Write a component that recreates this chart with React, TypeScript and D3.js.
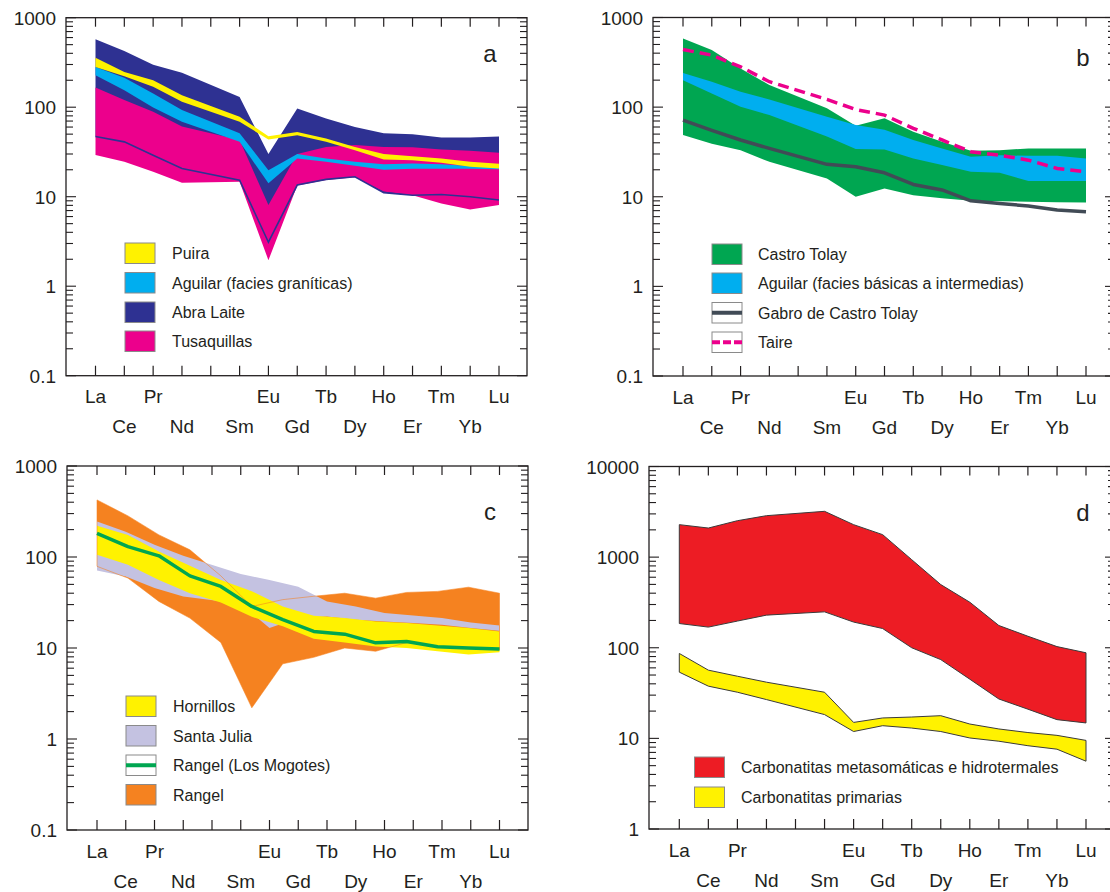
import React from 'react';
import * as d3 from 'd3';

// ---------- categories & tick labels ----------
const ELEMENTS = ['La', 'Ce', 'Pr', 'Nd', 'Pm', 'Sm', 'Eu', 'Gd', 'Tb', 'Dy', 'Ho', 'Er', 'Tm', 'Yb', 'Lu'];
const ROW1_LABELS = ['La', 'Pr', 'Eu', 'Tb', 'Ho', 'Tm', 'Lu'];
const ROW2_LABELS = ['Ce', 'Nd', 'Sm', 'Gd', 'Dy', 'Er', 'Yb'];
const REE = ELEMENTS.filter((e) => e !== 'Pm'); // 14 analysed elements
const Y_TICKS_ABC = [0.1, 1, 10, 100, 1000];
const Y_TICKS_D = [1, 10, 100, 1000, 10000];

// ---------- panel a (values for La..Lu without Pm) ----------
const abraLaiteTop = [573, 425, 299, 242, 130, 30, 97, 75, 60, 51, 50, 46, 46, 47];
const abraLaiteLow = [47, 41, 29, 20.7, 15.3, 3.1, 13.5, 15.6, 16.7, 11.1, 10.4, 10.6, 10, 9.2];
const tusaquillasTop = [166, 120, 89, 61, 43, 8.1, 30, 36, 37.7, 36, 35.6, 33.7, 32.6, 31];
const tusaquillasLow = [29.2, 24.5, 19, 14.3, 14.7, 1.95, 13.3, 15.4, 16.5, 11.4, 10.4, 8.4, 7.2, 8.1];
const aguilarGranTop = [282, 214, 142, 93, 51, 19.8, 30, 26.8, 24.6, 23, 23.5, 23, 22, 21.5];
const aguilarGranLow = [228, 155, 99, 68.6, 41, 14.1, 26.8, 24.5, 22.2, 20, 20.5, 20.5, 20.5, 20.3];
const puiraTop = [358, 248, 200, 136, 78, 47.5, 53, 44.7, 36, 30, 28.4, 26.8, 24.5, 23.4];
const puiraLow = [282, 222, 169, 115, 68.6, 43.6, 48.7, 41, 33, 26, 25.6, 24, 21.6, 20.7];
const LEGEND_A = ['Puira', 'Aguilar (facies graníticas)', 'Abra Laite', 'Tusaquillas'];

// ---------- panel b ----------
const castroTolayTop = [583, 433, 270, 176, 97, 62, 75, 53, 41, 32.6, 33, 34.6, 34.6, 34.6];
const castroTolayLow = [48.8, 39, 33, 24.5, 16, 10, 12.4, 10.4, 9.6, 9, 8.9, 8.8, 8.7, 8.6];
const aguilarBasTop = [241, 192, 148, 122, 78, 63, 56, 43, 34.6, 28, 29, 28.6, 28.6, 26.8];
const aguilarBasLow = [200, 142, 101, 81.5, 47, 34, 33.7, 26.8, 22.6, 19, 18.5, 15, 15, 15];
const gabroCastroTolay = [71.6, 55, 43, 34.6, 23, 21.6, 18.5, 13.7, 11.9, 9, 8.4, 7.9, 7.1, 6.8];
const taire = [440, 380, 282, 192, 122, 94, 81.5, 58, 43, 31.8, 29, 25.6, 20.7, 19];
const LEGEND_B = ['Castro Tolay', 'Aguilar (facies básicas a intermedias)', 'Gabro de Castro Tolay', 'Taire'];

// ---------- panel c ----------
const rangelTop = [424, 283, 175, 120, 62, 28.6, 34, 37, 40, 35.3, 40.8, 41.9, 46.6, 40];
const rangelLow = [79, 58.6, 32.5, 21.3, 11.5, 2.2, 6.7, 7.9, 10, 9.2, 11.5, 10.5, 10, 9.5];
const santaJuliaTop = [245, 190, 136, 103, 65, 56, 47, 32.5, 28.6, 24.2, 22.8, 21.3, 19.1, 17.7];
const santaJuliaLow = [71, 61, 45.5, 36.9, 30.6, 16.6, 21.3, 22.2, 20.4, 19.6, 18.8, 18, 16.6, 15.5];
const hornillosTop = [220, 175, 115, 80, 56, 42, 28.6, 22.6, 21.3, 19.6, 18.8, 17.7, 16.6, 15.2];
const hornillosLow = [106, 82, 56, 40, 31.7, 22, 17.3, 12.6, 11.5, 10.4, 10, 9.2, 8.5, 9];
const rangelMogotes = [182, 130, 103, 62, 47.5, 28.6, 20.5, 15.2, 14.2, 11.4, 11.8, 10.3, 10, 9.75];
const LEGEND_C = ['Hornillos', 'Santa Julia', 'Rangel (Los Mogotes)', 'Rangel'];

// ---------- panel d ----------
const carbMetTop = [2282, 2094, 2523, 2866, 3202, 2282, 1770, 938, 498, 318, 176, 134, 103, 88];
const carbMetLow = [185, 169, 197, 229, 249, 192, 163, 100, 74, 45, 27.2, 21, 16.1, 14.8];
const carbPrimTop = [86.5, 56.6, 48.5, 41.7, 32.3, 15, 16.8, 17.2, 17.8, 14.4, 12.7, 11.6, 10.8, 9.5];
const carbPrimLow = [53.8, 37.7, 32.3, 26.8, 18.3, 11.9, 13.8, 13, 11.9, 10.1, 9.3, 8.3, 7.6, 5.6];
const LEGEND_D = ['Carbonatitas metasomáticas e hidrotermales', 'Carbonatitas primarias'];

// ---------- layout ----------
type Frame = { x0: number; x1: number; y0: number; y1: number; la: number; lu: number; dom: [number, number] };
const FA: Frame = { x0: 66, x1: 527, y0: 17.7, y1: 375.7, la: 95.5, lu: 499, dom: [0.1, 1000] };
const FB: Frame = { x0: 653, x1: 1115, y0: 17.5, y1: 376, la: 683, lu: 1086, dom: [0.1, 1000] };
const FC: Frame = { x0: 67, x1: 528, y0: 466, y1: 830, la: 97, lu: 499.5, dom: [0.1, 1000] };
const FD: Frame = { x0: 649, x1: 1115, y0: 466.5, y1: 829, la: 679.3, lu: 1086, dom: [1, 10000] };

const INK = '#231f20';
const FONT = "'Liberation Sans', Arial, Helvetica, sans-serif";

function scales(f: Frame) {
  const x = d3.scalePoint<string>().domain(ELEMENTS).range([f.la, f.lu]);
  const xe = d3.scalePoint<string>().domain(REE).range([f.la, f.lu]);
  const y = d3.scaleLog().domain(f.dom).range([f.y1, f.y0]);
  const xt = REE.map((e) => x(e) as number); // positions on element ticks
  const xv = REE.map((e) => xe(e) as number); // evenly spaced positions
  return { x, y, xt, xv };
}

function band(xs: number[], top: number[], low: number[], y: d3.ScaleLogarithmic<number, number>) {
  return (
    d3
      .area<number>()
      .x((_, i) => xs[i])
      .y0((_, i) => y(low[i]))
      .y1((d) => y(d))(top) || ''
  );
}
function polyline(xs: number[], vals: number[], y: d3.ScaleLogarithmic<number, number>) {
  return (
    d3
      .line<number>()
      .x((_, i) => xs[i])
      .y((d) => y(d))(vals) || ''
  );
}

function Axes({ f, ticks, letter, letterX, letterY }: { f: Frame; ticks: number[]; letter: string; letterX: number; letterY: number }) {
  const { x, y } = scales(f);
  const all = y.ticks();
  const isMajor = (v: number) => Math.abs(Math.log10(v) - Math.round(Math.log10(v))) < 1e-6;
  const fmt = d3.format('~g');
  return (
    <g>
      <rect x={f.x0} y={f.y0} width={f.x1 - f.x0} height={f.y1 - f.y0} fill="none" stroke={INK} strokeWidth={1.3} />
      {ELEMENTS.map((e) => (
        <g key={e}>
          <line x1={x(e)} x2={x(e)} y1={f.y0} y2={f.y0 + 9} stroke={INK} strokeWidth={1.2} />
          <line x1={x(e)} x2={x(e)} y1={f.y1} y2={f.y1 - 10} stroke={INK} strokeWidth={1.2} />
        </g>
      ))}
      {all.map((v, i) => {
        const len = isMajor(v) ? 10 : 7;
        const yy = y(v);
        return (
          <g key={i}>
            <line x1={f.x0} x2={f.x0 + len} y1={yy} y2={yy} stroke={INK} strokeWidth={1.1} />
            <line x1={f.x1} x2={f.x1 - len} y1={yy} y2={yy} stroke={INK} strokeWidth={1.1} />
          </g>
        );
      })}
      {ticks.map((v) => (
        <text key={v} x={f.x0 - 10} y={y(v) + 7} textAnchor="end" fontSize={19} fill={INK}>
          {fmt(v)}
        </text>
      ))}
      {ROW1_LABELS.map((e) => (
        <text key={e} x={x(e)} y={f.y1 + 27.5} textAnchor="middle" fontSize={19} fill={INK}>
          {e}
        </text>
      ))}
      {ROW2_LABELS.map((e) => (
        <text key={e} x={x(e)} y={f.y1 + 57.5} textAnchor="middle" fontSize={19} fill={INK}>
          {e}
        </text>
      ))}
      <text x={letterX} y={letterY} textAnchor="middle" fontSize={24} fill={INK}>
        {letter}
      </text>
    </g>
  );
}

type Swatch = { kind: 'fill'; color: string } | { kind: 'line'; color: string; dash?: string };
function Legend({ x, ys, tx, labels, swatches }: { x: number; ys: number[]; tx: number; labels: string[]; swatches: Swatch[] }) {
  return (
    <g>
      {labels.map((l, i) => {
        const s = swatches[i];
        const y0 = ys[i];
        return (
          <g key={l}>
            <rect x={x} y={y0} width={30} height={20.5} fill={s.kind === 'fill' ? s.color : '#fff'} stroke="#8a8a8a" strokeWidth={1} />
            {s.kind === 'line' && (
              <line x1={x} x2={x + 30} y1={y0 + 10.25} y2={y0 + 10.25} stroke={s.color} strokeWidth={4} strokeDasharray={s.dash} />
            )}
            <text x={tx} y={y0 + 16} fontSize={16} fill={INK}>
              {l}
            </text>
          </g>
        );
      })}
    </g>
  );
}

function PanelA() {
  const { y, xt } = scales(FA);
  return (
    <g>
      <path d={band(xt, abraLaiteTop, abraLaiteLow, y)} fill="#2e3192" />
      <path d={band(xt, tusaquillasTop, tusaquillasLow, y)} fill="#ec008c" />
      <path d={polyline(xt, abraLaiteLow, y)} fill="none" stroke="#2e3192" strokeWidth={1.6} />
      <path d={band(xt, aguilarGranTop, aguilarGranLow, y)} fill="#00aeef" />
      <path d={band(xt, puiraTop, puiraLow, y)} fill="#fff200" />
      <Axes f={FA} ticks={Y_TICKS_ABC} letter="a" letterX={490} letterY={62} />
      <Legend
        x={125}
        ys={[243, 272.5, 302, 331]}
        tx={172}
        labels={LEGEND_A}
        swatches={[
          { kind: 'fill', color: '#fff200' },
          { kind: 'fill', color: '#00aeef' },
          { kind: 'fill', color: '#2e3192' },
          { kind: 'fill', color: '#ec008c' },
        ]}
      />
    </g>
  );
}

function PanelB() {
  const { y, xt } = scales(FB);
  return (
    <g>
      <path d={band(xt, castroTolayTop, castroTolayLow, y)} fill="#00a651" />
      <path d={band(xt, aguilarBasTop, aguilarBasLow, y)} fill="#00aeef" />
      <path d={polyline(xt, gabroCastroTolay, y)} fill="none" stroke="#414b56" strokeWidth={3.5} strokeLinejoin="round" />
      <path d={polyline(xt, taire, y)} fill="none" stroke="#ec008c" strokeWidth={3.5} strokeDasharray="11 6" />
      <Axes f={FB} ticks={Y_TICKS_ABC} letter="b" letterX={1083} letterY={66} />
      <Legend
        x={712}
        ys={[244, 273, 302.5, 332]}
        tx={758}
        labels={LEGEND_B}
        swatches={[
          { kind: 'fill', color: '#00a651' },
          { kind: 'fill', color: '#00aeef' },
          { kind: 'line', color: '#414b56' },
          { kind: 'line', color: '#ec008c', dash: '8 3' },
        ]}
      />
    </g>
  );
}

function PanelC() {
  const { y, xt, xv } = scales(FC);
  return (
    <g>
      <path d={band(xv, rangelTop, rangelLow, y)} fill="#f58220" />
      <path d={band(xt, santaJuliaTop, santaJuliaLow, y)} fill="#c4c2e1" />
      <path d={band(xv, hornillosTop, hornillosLow, y)} fill="#fff200" />
      <path d={band(xv, rangelTop, rangelLow, y)} fill="none" stroke="#f58220" strokeOpacity={0.7} strokeWidth={0.8} />
      <path d={polyline(xv, rangelMogotes, y)} fill="none" stroke="#00a651" strokeWidth={3.5} strokeLinejoin="round" />
      <Axes f={FC} ticks={Y_TICKS_ABC} letter="c" letterX={490} letterY={520} />
      <Legend
        x={126}
        ys={[696, 725.5, 755, 784.5]}
        tx={173}
        labels={LEGEND_C}
        swatches={[
          { kind: 'fill', color: '#fff200' },
          { kind: 'fill', color: '#c4c2e1' },
          { kind: 'line', color: '#00a651' },
          { kind: 'fill', color: '#f58220' },
        ]}
      />
    </g>
  );
}

function PanelD() {
  const { y, xt } = scales(FD);
  return (
    <g>
      <path d={band(xt, carbMetTop, carbMetLow, y) + 'Z'} fill="#ed1c24" stroke="#3a3a3a" strokeWidth={1} />
      <path d={band(xt, carbPrimTop, carbPrimLow, y) + 'Z'} fill="#fff200" stroke="#3a3a3a" strokeWidth={1} />
      <Axes f={FD} ticks={Y_TICKS_D} letter="d" letterX={1083} letterY={521} />
      <Legend
        x={694.5}
        ys={[757, 787]}
        tx={741}
        labels={LEGEND_D}
        swatches={[
          { kind: 'fill', color: '#ed1c24' },
          { kind: 'fill', color: '#fff200' },
        ]}
      />
    </g>
  );
}

export default function App() {
  return (
    <svg
      width={1110}
      height={892}
      style={{ position: 'absolute', left: 0, top: 0, display: 'block', background: '#fff' }}
      fontFamily={FONT}
    >
      <rect x={0} y={0} width={1110} height={892} fill="#fff" />
      <PanelA />
      <PanelB />
      <PanelC />
      <PanelD />
    </svg>
  );
}
